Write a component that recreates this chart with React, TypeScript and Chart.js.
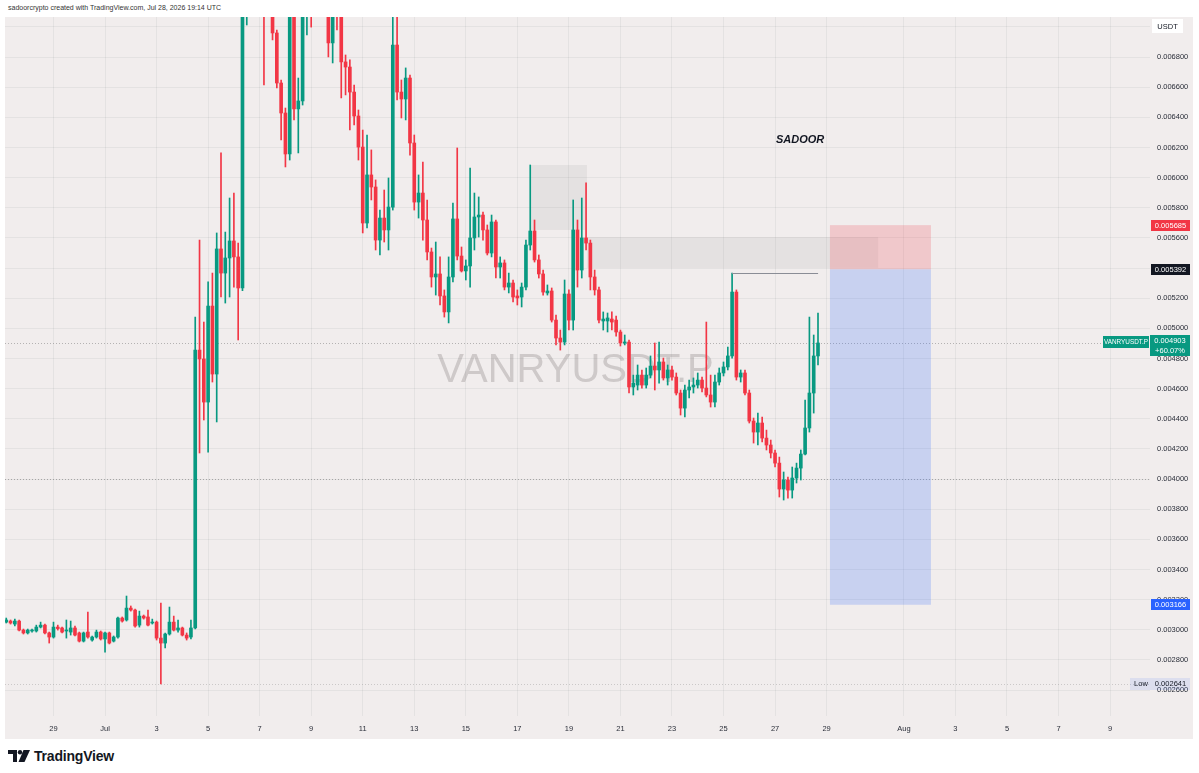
import React, { useEffect, useRef } from "react";
import { Chart, registerables } from "chart.js";

Chart.register(...registerables);

const FONT = "'Liberation Sans', Arial, sans-serif";
const GREEN = "#089981";
const RED = "#F23645";
const BG = "#F1EDED";

// VANRYUSDT.P, 4-hour candles. Time axis in days from Jun 29 00:00 UTC.
const FIRST_CANDLE_DAY = -44 / 24; // Jun 27 04:00
const CANDLE_DAYS = 4 / 24;
// Prices in millionths of USDT
const OPEN = [
  3051, 3058, 3038, 3058, 2998, 2979, 2992, 2992, 3018, 3031,
  2979, 2952, 3018, 3012, 2992, 2985, 3012, 2979, 2925, 2985,
  2932, 2952, 2985, 2939, 2979, 2925, 2952, 3078, 3065, 3144,
  3131, 3031, 3091, 3085, 3045, 3051, 2945, 2912, 2972, 3051,
  2998, 3012, 2965, 2952, 3012, 4856, 4797, 4511, 5148, 4697,
  5527, 5367, 5467, 5580, 5474, 5268, 7146, 7250, 7350, 7300,
  7250, 7150, 7180, 6960, 6628, 6429, 6157, 7113, 6456, 6509,
  7146, 7200, 7180, 7250, 7220, 7150, 6894, 7113, 7099, 6768,
  6734, 6568, 6409, 6203, 5699, 6018, 5938, 5586, 5732, 5653,
  5805, 6880, 6568, 6522, 6661, 6230, 5838, 5898, 5719, 5507,
  5341, 5361, 5215, 5109, 5341, 5726, 5480, 5381, 5414, 5600,
  5739, 5752, 5653, 5500, 5706, 5407, 5434, 5274, 5301, 5215,
  5208, 5274, 5553, 5646, 5454, 5361, 5235, 5248, 5055, 4936,
  4909, 5228, 5055, 5653, 5387, 5600, 5566, 5341, 5255, 5049,
  5049, 5062, 5055, 4976, 4903, 4909, 4611, 4624, 4690, 4624,
  4690, 4750, 4724, 4777, 4671, 4724, 4677, 4571, 4471, 4591,
  4611, 4624, 4657, 4604, 4558, 4511, 4644, 4704, 4744, 4817,
  5241, 4677, 4704, 4571, 4385, 4312, 4372, 4272, 4226, 4173,
  4106, 3934, 3994, 3927, 4007, 4073, 4166, 4339, 4571, 4817,
];
const HIGH = [
  3078, 3065, 3071, 3065, 3005, 3005, 3005, 3031, 3051, 3038,
  2985, 3051, 3031, 3018, 3065, 3058, 3025, 2985, 2985, 3118,
  2959, 2998, 2992, 2985, 2985, 2959, 3085, 3085, 3224, 3158,
  3138, 3124, 3098, 3131, 3071, 3058, 3178, 2979, 3151, 3091,
  3065, 3018, 2979, 3065, 5075, 5586, 5042, 5308, 5367, 5633,
  6164, 5639, 5865, 5898, 5566, 7312, 7400, 7500, 7550, 7450,
  7350, 7300, 7250, 6980, 6648, 6462, 7212, 7179, 6661, 7245,
  7300, 7320, 7380, 7400, 7330, 7220, 7179, 7200, 7179, 6814,
  6781, 6615, 6449, 6316, 6283, 6184, 5985, 5785, 5918, 5998,
  7066, 7079, 6648, 6728, 6681, 6283, 6018, 6104, 5852, 5533,
  5573, 5474, 5255, 5474, 5832, 6197, 5540, 5454, 6064, 5898,
  5872, 5772, 5686, 5752, 5719, 5474, 5454, 5367, 5321, 5255,
  5301, 5586, 6084, 5719, 5487, 5387, 5288, 5268, 5089, 4989,
  5321, 5255, 5852, 5719, 5865, 5965, 5586, 5387, 5274, 5109,
  5102, 5109, 5082, 4989, 4956, 4923, 4690, 4757, 4724, 4737,
  4817, 4903, 4909, 4803, 4757, 4750, 4704, 4591, 4624, 4657,
  4671, 4704, 4677, 5042, 4690, 4690, 4737, 4777, 4876, 5367,
  5255, 4724, 4724, 4591, 4405, 4438, 4412, 4325, 4259, 4193,
  4146, 4047, 4014, 4080, 4106, 4193, 4525, 5075, 4956, 5102,
];
const LOW = [
  3045, 3038, 3025, 2992, 2972, 2972, 2985, 2985, 3012, 2972,
  2912, 2945, 2998, 2979, 2945, 2965, 2959, 2919, 2919, 2945,
  2925, 2945, 2932, 2852, 2906, 2919, 2945, 3051, 3058, 3124,
  3018, 3018, 3071, 3025, 3038, 2932, 2641, 2879, 2965, 2992,
  2985, 2959, 2932, 2939, 3005, 4173, 4392, 4179, 4644, 4379,
  5208, 5168, 5208, 5274, 4923, 5250, 7013, 7150, 7200, 7120,
  6615, 7080, 6914, 6595, 6250, 6071, 6117, 6383, 6164, 6482,
  6947, 6999, 7099, 7126, 7099, 6801, 6761, 6980, 6529, 6549,
  6316, 6350, 6117, 5633, 5666, 5852, 5520, 5487, 5573, 5520,
  5785, 6515, 6396, 6383, 6150, 5785, 5732, 5586, 5454, 5274,
  5221, 5155, 5075, 5036, 5308, 5454, 5374, 5321, 5274, 5520,
  5606, 5586, 5487, 5474, 5334, 5334, 5255, 5235, 5175, 5155,
  5142, 5255, 5520, 5440, 5334, 5221, 5221, 5042, 4890, 4856,
  4890, 4989, 4989, 5274, 5334, 5520, 5255, 5221, 5036, 4989,
  4976, 4989, 4949, 4883, 4890, 4571, 4558, 4591, 4604, 4604,
  4671, 4591, 4637, 4657, 4624, 4657, 4558, 4425, 4412, 4538,
  4571, 4604, 4578, 4545, 4478, 4478, 4624, 4684, 4724, 4803,
  4657, 4644, 4558, 4372, 4239, 4226, 4246, 4193, 4140, 4080,
  3881, 3861, 3874, 3874, 3974, 3994, 4160, 4312, 4438, 4757,
];
const CLOSE = [
  3065, 3045, 3058, 2998, 2979, 2998, 2998, 3018, 3031, 2979,
  2952, 3018, 3008, 2985, 2998, 3012, 2965, 2925, 2979, 2952,
  2952, 2985, 2939, 2979, 2912, 2952, 3078, 3058, 3144, 3131,
  3025, 3091, 3078, 3031, 3051, 2945, 2912, 2972, 3051, 2998,
  3012, 2965, 2945, 3012, 4856, 4797, 4511, 5148, 4697, 5527,
  5367, 5467, 5580, 5474, 5268, 7146, 7250, 7350, 7300, 7250,
  7150, 7180, 6960, 6628, 6429, 6157, 7113, 6456, 6509, 7146,
  7200, 7180, 7250, 7220, 7150, 6894, 7113, 7099, 6768, 6734,
  6568, 6409, 6203, 5699, 6018, 5938, 5586, 5732, 5653, 5805,
  6880, 6568, 6522, 6661, 6230, 5838, 5898, 5719, 5507, 5341,
  5361, 5215, 5109, 5341, 5726, 5480, 5381, 5414, 5600, 5739,
  5752, 5653, 5500, 5706, 5407, 5434, 5274, 5301, 5208, 5202,
  5274, 5553, 5646, 5454, 5361, 5241, 5248, 5055, 4936, 4909,
  5228, 5055, 5653, 5387, 5600, 5566, 5341, 5255, 5055, 5062,
  5069, 5042, 4976, 4903, 4909, 4611, 4637, 4690, 4624, 4690,
  4750, 4724, 4777, 4671, 4724, 4677, 4571, 4471, 4591, 4611,
  4624, 4657, 4604, 4558, 4511, 4644, 4704, 4744, 4817, 5241,
  4677, 4704, 4571, 4385, 4312, 4372, 4272, 4226, 4173, 4106,
  3934, 3994, 3927, 4007, 4073, 4166, 4339, 4571, 4817, 4903,
];

const TICK_DAYS = [0, 2, 4, 6, 8, 10, 12, 14, 16, 18, 20, 22, 24, 26, 28, 30, 33, 35, 37, 39, 41];
const TICK_LABELS = ["29", "Jul", "3", "5", "7", "9", "11", "13", "15", "17", "19", "21", "23", "25", "27", "29", "Aug", "3", "5", "7", "9"];
const PRICE_STEP = 0.0002;
const PRICE_LABEL_MAX = 0.0068; // highest price label shown (the USDT badge sits above it)
const Y_MIN = 0.002428;
const Y_MAX = 0.007066;
const X_MIN = -1.882;
const X_MAX = 42.55;

const SYMBOL = "VANRYUSDT.P";
const LAST_PRICE = 0.004903;
const CHANGE_TEXT = "+60.07%";
const LOW_PRICE = 0.002641;
const LEVEL_PRICE = 0.004;
// Short position tool
const POS_START = 30.13;
const POS_END = 34.05;
const POS_STOP = 0.005685;
const POS_ENTRY = 0.005392;
const POS_TARGET = 0.003166;
// Gray zones: [startDay, endDay, topPrice, bottomPrice]
const ZONES = [
  [18.49, 20.7, 0.006084, 0.005653],
  [20.7, 32.0, 0.005606, 0.005401],
];
const HLINE_START = 26.33;
const HLINE_END = 29.67;
const HLINE_PRICE = 0.005367;
const NOTE_DAY = 28.97;
const NOTE_PRICE = 0.00625;
const NOTE_TEXT = "SADOOR";

const fmt = (v: number) => v.toFixed(6);

function tag(ctx: CanvasRenderingContext2D, x0: number, x1: number, yc: number, h: number, bg: string, fg: string, text: string) {
  ctx.fillStyle = bg;
  ctx.fillRect(x0, Math.round(yc - h / 2), x1 - x0, h);
  ctx.fillStyle = fg;
  ctx.textAlign = "center";
  ctx.textBaseline = "middle";
  ctx.fillText(text, (x0 + x1) / 2, yc + 0.5);
}

const overlay = {
  id: "tvOverlay",
  beforeDatasetsDraw(chart: any) {
    const { ctx, chartArea: a, scales } = chart;
    const x = scales.x, y = scales.y;
    ctx.save();
    ctx.beginPath();
    ctx.rect(a.left, a.top, a.right - a.left, a.bottom - a.top);
    ctx.clip();
    ctx.font = `40px ${FONT}`;
    ctx.fillStyle = "rgba(110,104,104,0.27)";
    ctx.textAlign = "center";
    ctx.textBaseline = "middle";
    ctx.fillText(SYMBOL, (a.left + a.right) / 2 - 2, (a.top + a.bottom) / 2 + 4);
    ctx.fillStyle = "rgba(128,124,124,0.11)";
    for (const z of ZONES) {
      const x0 = x.getPixelForValue(z[0]);
      const x1 = x.getPixelForValue(z[1]);
      const y0 = y.getPixelForValue(z[2]);
      const y1 = y.getPixelForValue(z[3]);
      ctx.fillRect(x0, y0, x1 - x0, y1 - y0);
    }
    ctx.setLineDash([1, 2]);
    ctx.lineWidth = 1;
    for (const [p, c] of [[LEVEL_PRICE, "rgba(90,90,90,0.45)"], [LAST_PRICE, "rgba(90,90,90,0.4)"], [LOW_PRICE, "rgba(90,90,90,0.25)"]] as [number, string][]) {
      const py = Math.round(y.getPixelForValue(p)) + 0.5;
      ctx.strokeStyle = c;
      ctx.beginPath();
      ctx.moveTo(a.left, py);
      ctx.lineTo(a.right, py);
      ctx.stroke();
    }
    ctx.restore();
  },
  afterDatasetsDraw(chart: any) {
    const { ctx, chartArea: a, scales } = chart;
    const x = scales.x, y = scales.y;
    ctx.save();
    ctx.beginPath();
    ctx.rect(a.left, a.top, a.right - a.left, a.bottom - a.top);
    ctx.clip();
    const px0 = x.getPixelForValue(POS_START);
    const px1 = x.getPixelForValue(POS_END);
    const ys = y.getPixelForValue(POS_STOP);
    const ye = y.getPixelForValue(POS_ENTRY);
    const yt = y.getPixelForValue(POS_TARGET);
    ctx.fillStyle = "rgba(242,54,69,0.2)";
    ctx.fillRect(px0, ys, px1 - px0, ye - ys);
    ctx.fillStyle = "rgba(41,98,255,0.2)";
    ctx.fillRect(px0, ye, px1 - px0, yt - ye);
    const hy = Math.round(y.getPixelForValue(HLINE_PRICE)) + 0.5;
    ctx.strokeStyle = "#8a8d96";
    ctx.lineWidth = 1;
    ctx.beginPath();
    ctx.moveTo(x.getPixelForValue(HLINE_START), hy);
    ctx.lineTo(x.getPixelForValue(HLINE_END), hy);
    ctx.stroke();
    ctx.font = `italic bold 11px ${FONT}`;
    ctx.fillStyle = "#131722";
    ctx.textAlign = "center";
    ctx.textBaseline = "middle";
    ctx.fillText(NOTE_TEXT, x.getPixelForValue(NOTE_DAY), y.getPixelForValue(NOTE_PRICE));
    ctx.restore();
  },
  afterDraw(chart: any) {
    const { ctx, chartArea: a, scales } = chart;
    const y = scales.y;
    const r = a.right;
    ctx.save();
    ctx.font = `7.5px ${FONT}`;
    // USDT box
    ctx.fillStyle = "#ffffff";
    ctx.fillRect(r + 2, 2, 31, 14);
    ctx.fillStyle = "#131722";
    ctx.textAlign = "center";
    ctx.textBaseline = "middle";
    ctx.fillText("USDT", r + 17.5, 9.5);
    tag(ctx, r + 1, r + 40, y.getPixelForValue(POS_STOP), 11, RED, "#ffffff", fmt(POS_STOP));
    tag(ctx, r + 1, r + 40, y.getPixelForValue(POS_ENTRY), 11, "#131722", "#ffffff", fmt(POS_ENTRY));
    tag(ctx, r + 1, r + 40, y.getPixelForValue(POS_TARGET), 11, "#2962FF", "#ffffff", fmt(POS_TARGET));
    // Last price
    const ly = y.getPixelForValue(LAST_PRICE);
    ctx.fillStyle = GREEN;
    ctx.fillRect(r + 0, Math.round(ly - 8), 40, 21);
    ctx.fillRect(r - 47, Math.round(ly - 7), 46, 12);
    ctx.fillStyle = "#ffffff";
    ctx.textAlign = "center";
    ctx.fillText(fmt(LAST_PRICE), r + 20, ly - 2);
    ctx.fillText(CHANGE_TEXT, r + 20, ly + 7.5);
    ctx.font = `6.4px ${FONT}`;
    ctx.fillText(SYMBOL, r - 24, ly - 0.5);
    ctx.font = `7.5px ${FONT}`;
    // Low
    const lowy = y.getPixelForValue(LOW_PRICE);
    ctx.fillStyle = "rgba(41,98,255,0.1)";
    ctx.fillRect(r - 20, Math.round(lowy - 6), 60, 12);
    ctx.fillStyle = "#131722";
    ctx.fillText("Low", r - 9, lowy + 0.5);
    ctx.fillText(fmt(LOW_PRICE), r + 20.5, lowy + 0.5);
    ctx.restore();
  },
};

export default function App() {
  const ref = useRef<HTMLCanvasElement | null>(null);
  useEffect(() => {
    if (!ref.current) return;
    const days = OPEN.map((_, i) => FIRST_CANDLE_DAY + i * CANDLE_DAYS);
    const colors = OPEN.map((o, i) => (CLOSE[i] >= o ? GREEN : RED));
    const bodies = OPEN.map((o, i) => ({ x: days[i], y: [o / 1e6, CLOSE[i] / 1e6] }));
    const wicks = OPEN.map((_, i) => ({ x: days[i], y: [LOW[i] / 1e6, HIGH[i] / 1e6] }));
    const chart = new Chart(ref.current, {
      type: "bar",
      data: {
        datasets: [
          { data: wicks as any, backgroundColor: colors, barThickness: 1, grouped: false, order: 2 } as any,
          { data: bodies as any, backgroundColor: colors, barThickness: 3, minBarLength: 1, grouped: false, order: 1 } as any,
        ],
      },
      options: {
        responsive: false,
        animation: false,
        devicePixelRatio: 1,
        layout: { padding: 0 },
        plugins: { legend: { display: false }, tooltip: { enabled: false } },
        scales: {
          x: {
            type: "linear",
            min: X_MIN,
            max: X_MAX,
            offset: false,
            border: { display: false },
            grid: { color: "rgba(42,46,57,0.06)", drawTicks: false, offset: false },
            ticks: {
              autoSkip: false,
              maxRotation: 0,
              padding: 8,
              color: "#2a2e39",
              font: { size: 7.5, family: FONT },
              callback: (_v: any, i: number) => TICK_LABELS[i] ?? "",
            },
            afterBuildTicks: (s: any) => {
              s.ticks = TICK_DAYS.map((v) => ({ value: v }));
            },
            afterFit: (s: any) => {
              s.height = 23;
              s.paddingLeft = 0;
              s.paddingRight = 0;
            },
          } as any,
          y: {
            type: "linear",
            position: "right",
            min: Y_MIN,
            max: Y_MAX,
            border: { display: false },
            grid: { color: "rgba(42,46,57,0.06)", drawTicks: false },
            ticks: {
              stepSize: PRICE_STEP,
              includeBounds: false,
              maxTicksLimit: 60,
              autoSkip: false,
              padding: 7,
              color: "#2a2e39",
              font: { size: 7.5, family: FONT },
              callback: (v: any) => (Number(v) > PRICE_LABEL_MAX + 1e-7 ? "" : fmt(Number(v))),
            },
            afterFit: (s: any) => {
              s.width = 43;
              s.paddingTop = 0;
              s.paddingBottom = 0;
            },
          } as any,
        },
      },
      plugins: [overlay],
    });
    return () => chart.destroy();
  }, []);

  return (
    <div style={{ position: "absolute", left: 0, top: 0, width: 1199, height: 773, background: "#ffffff", fontFamily: FONT, overflow: "hidden" }}>
      <div style={{ position: "absolute", left: 8, top: 4, fontSize: 7, color: "#333333", whiteSpace: "nowrap" }}>
        sadoorcrypto created with TradingView.com, Jul 28, 2026 19:14 UTC
      </div>
      <div style={{ position: "absolute", left: 5, top: 17, width: 1188, height: 722, background: BG }}>
        <canvas ref={ref} width={1188} height={722} style={{ display: "block" }} />
      </div>
      <div style={{ position: "absolute", left: 8, top: 748, display: "flex", alignItems: "center", gap: 4 }}>
        <svg width="22" height="13" viewBox="0 0 22 13">
          <path d="M0 0 H9 V12 H5 V4 H0 Z" fill="#131722" />
          <circle cx="12" cy="2.2" r="2.2" fill="#131722" />
          <path d="M15.5 0 H22 L16.5 12 H10.5 Z" fill="#131722" />
        </svg>
        <span style={{ fontSize: 14, fontWeight: 700, color: "#131722", letterSpacing: -0.2 }}>TradingView</span>
      </div>
    </div>
  );
}
